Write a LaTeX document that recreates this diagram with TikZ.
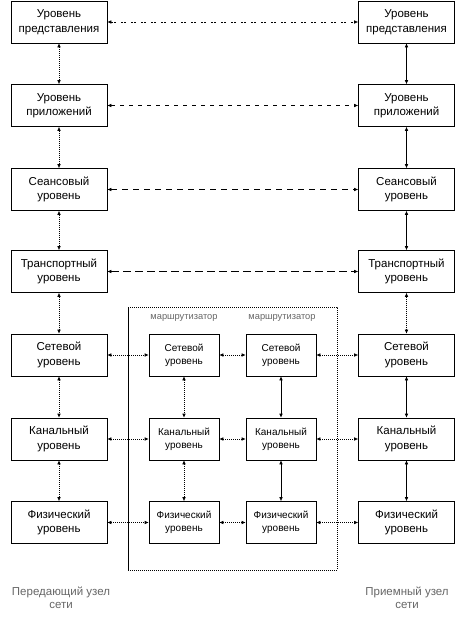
\documentclass[tikz,border=0pt]{standalone}
\usepackage{fontspec}
\setmainfont{Liberation Sans}
\usetikzlibrary{arrows.meta}
\begin{document}
\begin{tikzpicture}[x=1pt,y=-1pt,
  box/.style={draw,line width=0.6pt,minimum width=96pt,minimum height=42pt,align=center,inner sep=0pt,font=\fontsize{11.5}{14.5}\selectfont},
  rbox/.style={draw,line width=0.6pt,minimum width=70pt,minimum height=42pt,align=center,inner sep=0pt,font=\fontsize{10}{13}\selectfont},
  conn/.style={line width=0.6pt,{Latex[length=4pt,width=3.5pt]}-{Latex[length=4pt,width=3.5pt]}},
  dots/.style={conn,dash pattern=on 1pt off 1pt},
  solidc/.style={conn},
  lbl/.style={text=black!60,align=center,font=\fontsize{11.5}{13.5}\selectfont},
  rlbl/.style={text=black!60,font=\fontsize{9.3}{11}\selectfont}
]
\useasboundingbox (0,0) rectangle (472,622);
% left column
\node[box] (l1) at (59,22) {Уровень\\представления};
\node[box] (l2) at (59,105.5) {Уровень\\приложений};
\node[box] (l3) at (59,189.5) {Сеансовый\\уровень};
\node[box] (l4) at (59,271.5) {Транспортный\\уровень};
\node[box] (l5) at (59,355) {Сетевой\\уровень};
\node[box] (l6) at (59,439) {Канальный\\уровень};
\node[box] (l7) at (59,522.5) {Физический\\уровень};
% right column
\node[box] (r1) at (406.5,22) {Уровень\\представления};
\node[box] (r2) at (406.5,105.5) {Уровень\\приложений};
\node[box] (r3) at (406.5,189.5) {Сеансовый\\уровень};
\node[box] (r4) at (406.5,271.5) {Транспортный\\уровень};
\node[box] (r5) at (406.5,355) {Сетевой\\уровень};
\node[box] (r6) at (406.5,439) {Канальный\\уровень};
\node[box] (r7) at (406.5,522.5) {Физический\\уровень};
% router frame
\coordinate (fa) at (128,307);
\coordinate (fb) at (337,307);
\coordinate (fc) at (337,570);
\coordinate (fd) at (128,570);
\draw[line width=0.6pt] (fd) -- (fa);
\draw[line width=0.6pt,dash pattern=on 1pt off 1pt] (fa) -- (fb) -- (fc) -- (fd);
\node[rlbl] (t1) at (184,318) {маршрутизатор};
\node[rlbl] (t2) at (282,318) {маршрутизатор};
% routers
\node[rbox] (a5) at (184,355) {Сетевой\\уровень};
\node[rbox] (a6) at (184,439) {Канальный\\уровень};
\node[rbox] (a7) at (184,522.5) {Физический\\уровень};
\node[rbox] (b5) at (281,355) {Сетевой\\уровень};
\node[rbox] (b6) at (281,439) {Канальный\\уровень};
\node[rbox] (b7) at (281,522.5) {Физический\\уровень};
% left vertical
\draw[dots] (l1) -- (l2);
\draw[dots] (l2) -- (l3);
\draw[dots] (l3) -- (l4);
\draw[dots] (l4) -- (l5);
\draw[dots] (l5) -- (l6);
\draw[dots] (l6) -- (l7);
% right vertical
\draw[solidc] (r1) -- (r2);
\draw[solidc] (r2) -- (r3);
\draw[solidc] (r3) -- (r4);
\draw[dots] (r4) -- (r5);
\draw[solidc] (r5) -- (r6);
\draw[solidc] (r6) -- (r7);
% router verticals
\draw[dots] (a5) -- (a6);
\draw[dots] (a6) -- (a7);
\draw[solidc] (b5) -- (b6);
\draw[solidc] (b6) -- (b7);
% peer horizontals
\draw[conn,dash pattern=on 2pt off 1pt on 2pt off 5pt] (l1) -- (r1);
\draw[conn,dash pattern=on 4pt off 5pt] (l2) -- (r2);
\draw[conn,dash pattern=on 6pt off 5pt] (l3) -- (r3);
\draw[conn,dash pattern=on 8pt off 4pt] (l4) -- (r4);
% lower horizontals
\foreach \i in {5,6,7}{
  \draw[dots] (l\i) -- (a\i);
  \draw[dots] (a\i) -- (b\i);
  \draw[dots] (b\i) -- (r\i);
}
% bottom labels
\node[lbl] (s1) at (61,598) {Передающий узел\\сети};
\node[lbl] (s2) at (407,598) {Приемный узел\\сети};
\end{tikzpicture}
\end{document}
